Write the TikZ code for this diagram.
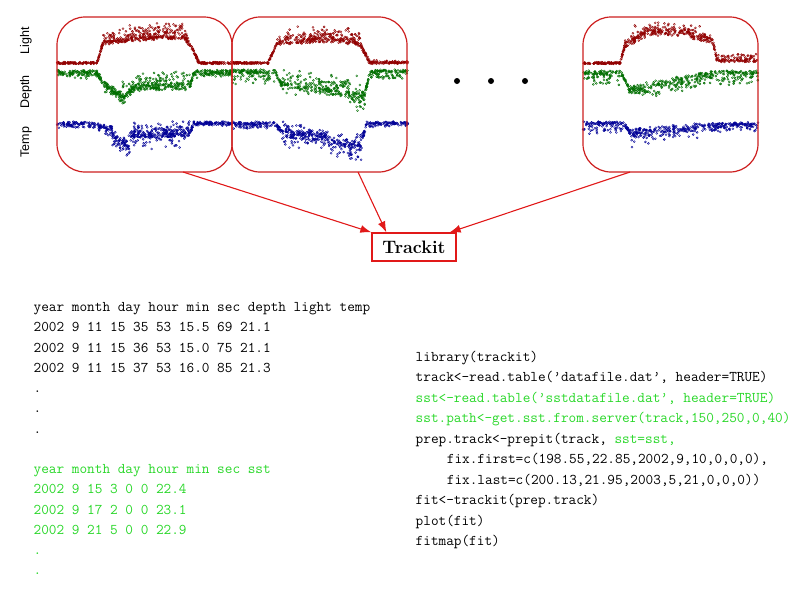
\documentclass[tikz,border=0pt]{standalone}
\usepackage{fontspec}
\newfontfamily\labfont{Liberation Sans}
\usetikzlibrary{arrows.meta}
\definecolor{boxred}{RGB}{205,30,30}
\definecolor{arrred}{RGB}{225,25,25}
\definecolor{codegreen}{RGB}{40,215,40}
\definecolor{lightc}{RGB}{145,0,0}
\definecolor{depthc}{RGB}{0,110,0}
\definecolor{tempc}{RGB}{0,0,150}
\newcommand\mytrace[2]{%
 \foreach \tkxa/\tkya/\tkxb/\tkyb/\tknn/\tkss/\tkoo in {#2}{%
   \pgfmathtruncatemacro\tkmm{2*\tknn}%
   \foreach \tkii in {1,...,\tkmm}{%
     \pgfmathsetmacro\tkpx{\tkxa+rnd*(\tkxb-\tkxa)}%
     \pgfmathsetmacro\tkpy{\tkya+(\tkpx-\tkxa)/(\tkxb-\tkxa)*(\tkyb-\tkya)+\tkss*rand+(\tkoo)*rnd^3}%
     \draw[#1,line width=0.4pt] (\tkpx,\tkpy) circle (1pt);
   }}}
\tikzset{
  databox/.style={draw=boxred, line width=1.2pt, rounded corners=28pt, minimum width=175pt, minimum height=155pt, inner sep=0pt},
  tkbox/.style={draw=arrred, line width=1.3pt, minimum width=84pt, minimum height=28pt, inner sep=0pt, font=\fontsize{18}{20}\selectfont\bfseries},
  conn/.style={draw=arrred, line width=1.1pt, -{Latex[length=11pt,width=8pt]}},
  side/.style={rotate=90, font=\labfont\fontsize{12.5}{14}\selectfont},
  code/.style={anchor=base west, inner sep=0pt, font=\ttfamily\fontsize{14.85}{17}\selectfont\addfontfeature{FakeBold=0.3}},
  gcode/.style={code, text=codegreen},
  dotn/.style={circle, fill=black, minimum size=6pt, inner sep=0pt},
}
\begin{document}
\begin{tikzpicture}[x=1pt,y=-1pt]
\useasboundingbox (0,0) rectangle (800,590);
\pgfmathsetseed{4242}
% ---- box 1 traces
\mytrace{lightc}{57/63/97/63/45/0.9/0, 97/63/103/43/15/1.5/0, 103/43/150/38/80/2/-10, 150/38/185/38/60/2/-15, 185/38/192/48/15/2/-6, 192/48/199/63/15/1.5/0, 199/63/232/63/40/0.9/0, 110/31/185/31/15/8/0}
\mytrace{depthc}{57/72/97/72/55/2/5, 97/72/105/84/15/2/3, 105/84/125/97/45/3/6, 125/97/135/88/20/3/-8, 135/88/190/87/90/3/-15, 190/87/194/72/10/2/0, 194/72/232/72/55/2/4, 120/82/185/82/15/8/0}
\mytrace{tempc}{57/123/97/123/45/1.5/4, 97/124/112/128/25/2/8, 112/135/130/146/35/4/8, 130/135/190/133/90/4/-10, 130/135/190/135/30/2/12, 190/133/194/123/8/2/0, 194/123/232/123/45/1.5/2, 115/140/185/140/15/10/0}
% ---- box 2 traces
\mytrace{lightc}{232/63/268/63/45/0.9/0, 268/63/277/43/15/1.5/0, 277/43/330/40/80/2/-10, 330/40/360/44/50/2/-12, 360/44/370/63/20/2/0, 370/63/408/63/45/0.9/-2, 285/33/360/33/12/7/0}
\mytrace{depthc}{232/71/275/71/60/1.5/12, 275/72/282/86/12/2/0, 282/86/350/95/100/3/-15, 350/95/365/95/30/4/15, 365/93/370/72/10/2/0, 370/71/408/71/50/1.5/8, 285/85/365/85/12/10/0}
\mytrace{tempc}{232/123/275/123/50/1.5/6, 275/124/282/132/12/2/0, 282/132/330/140/70/4/-8, 282/135/330/138/25/3/10, 330/140/362/145/50/4/15, 362/140/367/123/10/2/0, 367/123/408/123/45/1.5/3, 285/142/365/142/15/10/0}
% ---- box 3 traces
\mytrace{lightc}{583/63/620/63/45/0.9/0, 620/63/625/45/12/1.5/0, 625/45/645/35/35/3/-6, 645/33/690/33/60/3/-8, 690/35/713/42/35/3/-5, 713/42/717/60/10/2/0, 717/61/758/61/50/1.2/-7, 630/28/710/28/10/6/0}
\mytrace{depthc}{583/72/622/72/50/1.5/12, 622/74/628/86/10/2/0, 628/87/645/88/30/3/6, 645/85/700/76/70/3/12, 700/75/720/72/25/2/10, 720/72/758/72/50/1.5/12}
\mytrace{tempc}{583/123/625/123/50/1.5/10, 625/125/630/132/10/2/0, 630/132/645/130/25/3/8, 645/130/700/126/65/3/10, 700/125/758/123/70/1.5/7, 630/142/650/142/4/8/0}
% ---- boxes
\node[databox] (b1) at (144.5,94.5) {};
\node[databox] (b2) at (319.5,94.5) {};
\node[databox] (b3) at (670.5,94.5) {};
% ---- side labels
\node[side] (lab1) at (26,41) {Light};
\node[side] (lab2) at (26,92) {Depth};
\node[side] (lab3) at (26,142) {Temp};
% ---- ellipsis dots
\node[dotn] (d1) at (457,81) {};
\node[dotn] (d2) at (491,81) {};
\node[dotn] (d3) at (525,81) {};
% ---- trackit
\node[tkbox] (t) at (414,247) {Trackit};
\coordinate (s1) at (183,172);
\coordinate (s2) at (358,172);
\coordinate (s3) at (630,172);
\draw[conn] (s1) -- (t.north west);
\draw[conn] (s2) -- ([xshift=15pt]t.north west);
\draw[conn] (s3) -- ([xshift=-7pt]t.north east);
% ---- left data block
\node[code] (a1) at (33.5,311.5) {year month day hour min sec depth light temp};
\node[code] (a2) at (33.5,331.75) {2002 9 11 15 35 53 15.5 69 21.1};
\node[code] (a3) at (33.5,352) {2002 9 11 15 36 53 15.0 75 21.1};
\node[code] (a4) at (33.5,372.25) {2002 9 11 15 37 53 16.0 85 21.3};
\node[code] (a5) at (33.5,392.5) {.};
\node[code] (a6) at (33.5,412.75) {.};
\node[code] (a7) at (33.5,433) {.};
\node[gcode] (g1) at (33.5,473.5) {year month day hour min sec sst};
\node[gcode] (g2) at (33.5,493.75) {2002 9 15 3 0 0 22.4};
\node[gcode] (g3) at (33.5,514) {2002 9 17 2 0 0 23.1};
\node[gcode] (g4) at (33.5,534.25) {2002 9 21 5 0 0 22.9};
\node[gcode] (g5) at (33.5,554.5) {.};
\node[gcode] (g6) at (33.5,574.75) {.};
% ---- right code block
\node[code] (c1) at (415.5,361) {library(trackit)};
\node[code] (c2) at (415.5,381.5) {track<-read.table(’datafile.dat’, header=TRUE)};
\node[gcode] (c3) at (415.5,402) {sst<-read.table(’sstdatafile.dat’, header=TRUE)};
\node[gcode] (c4) at (415.5,422.5) {sst.path<-get.sst.from.server(track,150,250,0,40)};
\node[code] (c5) at (415.5,443) {prep.track<-prepit(track, \textcolor{codegreen}{sst=sst,}};
\node[code] (c6) at (415.5,463.5) {\hspace*{2.1em}fix.first=c(198.55,22.85,2002,9,10,0,0,0),};
\node[code] (c7) at (415.5,484) {\hspace*{2.1em}fix.last=c(200.13,21.95,2003,5,21,0,0,0))};
\node[code] (c8) at (415.5,504.5) {fit<-trackit(prep.track)};
\node[code] (c9) at (415.5,525) {plot(fit)};
\node[code] (c10) at (415.5,545.5) {fitmap(fit)};
\end{tikzpicture}
\end{document}
